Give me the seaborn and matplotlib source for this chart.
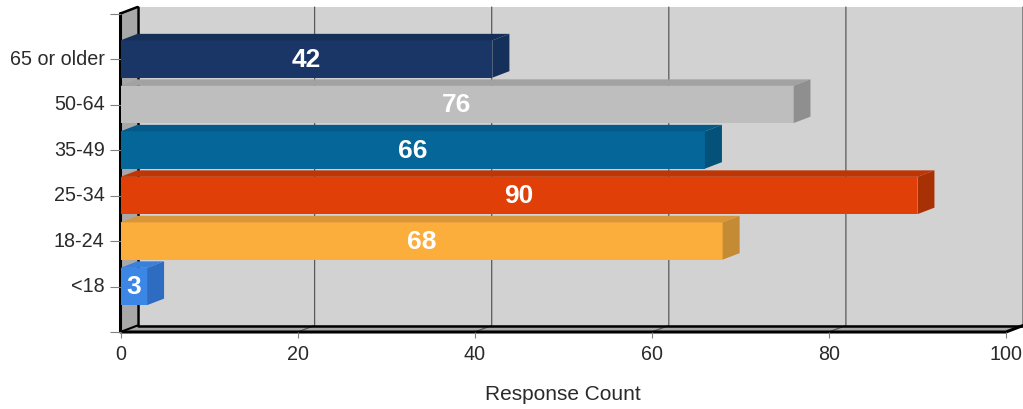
import seaborn as sns
import pandas as pd
import matplotlib.pyplot as plt
from matplotlib.patches import Polygon
from matplotlib.transforms import ScaledTranslation

categories = ["65 or older", "50-64", "35-49", "25-34", "18-24", "<18"]
counts = [42, 76, 66, 90, 68, 3]
front_colors = ["#1a3666", "#bebebe", "#05669a", "#e03f08", "#fbae3c", "#3c87e6"]
top_colors = ["#153058", "#a2a2a2", "#045a88", "#bf3606", "#d8953a", "#3a7fd8"]
side_colors = ["#15305a", "#8f8f8f", "#045179", "#a83005", "#c48a34", "#2d6cc0"]
x_ticks = [0, 20, 40, 60, 80, 100]

# depth of the fake 3d box, in pixels
depth_px = (17, 6.5)
label_font = 14.2

sns.set_theme(style="white")
plt.rcParams['font.family'] = ['Liberation Sans', 'DejaVu Sans']

W, H = 1023, 410
fig = plt.figure(figsize=(W / 100, H / 100), dpi=100)
ax = fig.add_axes([120.5 / W, 1 - 333 / H, 885.5 / W, 318.5 / H])
ax.patch.set_visible(False)

df = pd.DataFrame({"age": categories, "count": counts})
sns.barplot(data=df, x="count", y="age", hue="age", order=categories, hue_order=categories,
            palette=dict(zip(categories, front_colors)), saturation=1, width=0.82,
            legend=False, linewidth=0, ax=ax)

ax.set_xlim(0, 100)
ax.set_ylim(6, -1)
dx = depth_px[0] * 100 / 885.5
dy = depth_px[1] * 7 / 318.5

# walls of the box
x0, x1 = ax.get_xlim()
y_bot, y_top = ax.get_ylim()
walls = [
    ([(x0 + dx, y_top - dy), (x1 + dx, y_top - dy), (x1 + dx, y_bot - dy), (x0 + dx, y_bot - dy)], "#d2d2d2"),
    ([(x0, y_top), (x0 + dx, y_top - dy), (x0 + dx, y_bot - dy), (x0, y_bot)], "#a8a8a8"),
    ([(x0, y_bot), (x0 + dx, y_bot - dy), (x1 + dx, y_bot - dy), (x1, y_bot)], "#a8a8a8"),
]
for pts, c in walls:
    ax.add_patch(Polygon(pts, closed=True, fc=c, ec="none", zorder=0.2, clip_on=False))

for t in x_ticks[1:]:
    ax.plot([t, t + dx, t + dx], [y_bot, y_bot - dy, y_top - dy], color="#5a5a5a", lw=0.9,
            zorder=0.3, clip_on=False)

# heavy black edges
edge = dict(color="black", zorder=0.4, clip_on=False, solid_capstyle="round", solid_joinstyle="round")
ax.plot([x0 + dx, x0 + dx, x1 + dx], [y_top - dy, y_bot - dy, y_bot - dy], lw=1.8, **edge)
ax.plot([x0, x0 + dx], [y_top, y_top - dy], lw=1.8, **edge)
ax.plot([x0, x0 + dx], [y_bot, y_bot - dy], lw=1.5, **edge)
ax.plot([x0, x0, x1, x1 + dx], [y_top, y_bot, y_bot, y_bot - dy], lw=2.2, **edge)

# top and end faces of each bar
for bar, top_c, side_c in zip(ax.patches, top_colors, side_colors):
    xe = bar.get_width()
    y_a, y_b = bar.get_y(), bar.get_y() + bar.get_height()
    ax.add_patch(Polygon([(0, y_a), (dx, y_a - dy), (xe + dx, y_a - dy), (xe, y_a)],
                         closed=True, fc=top_c, ec="none", zorder=1.5, clip_on=False))
    ax.add_patch(Polygon([(xe, y_a), (xe + dx, y_a - dy), (xe + dx, y_b - dy), (xe, y_b)],
                         closed=True, fc=side_c, ec="none", zorder=1.5, clip_on=False))

for cont in ax.containers:
    ax.bar_label(cont, label_type="center", color="white", fontweight="bold", fontsize=19)

sns.despine(ax=ax, left=True, bottom=True, top=True, right=True)
ax.set_yticks(range(-1, 7), [""] + categories + [""])
ax.set_xticks(x_ticks)
ax.tick_params(axis="y", left=True, length=8, width=0.8, color="#808080", labelsize=label_font,
               labelcolor="#2a2a2a", pad=3.5)
ax.tick_params(axis="x", bottom=True, length=4, width=0.8, color="#808080", labelsize=label_font,
               labelcolor="#2a2a2a", pad=5)
ax.set_ylabel("")
ax.set_xlabel("Response Count", fontsize=label_font + 0.8, color="#2a2a2a", labelpad=15)

# labels sit a little higher than the tick marks
nudge = ScaledTranslation(0, 2 / 72, fig.dpi_scale_trans)
for lbl in ax.get_yticklabels():
    lbl.set_transform(lbl.get_transform() + nudge)

plt.savefig("out.png", dpi=100)
